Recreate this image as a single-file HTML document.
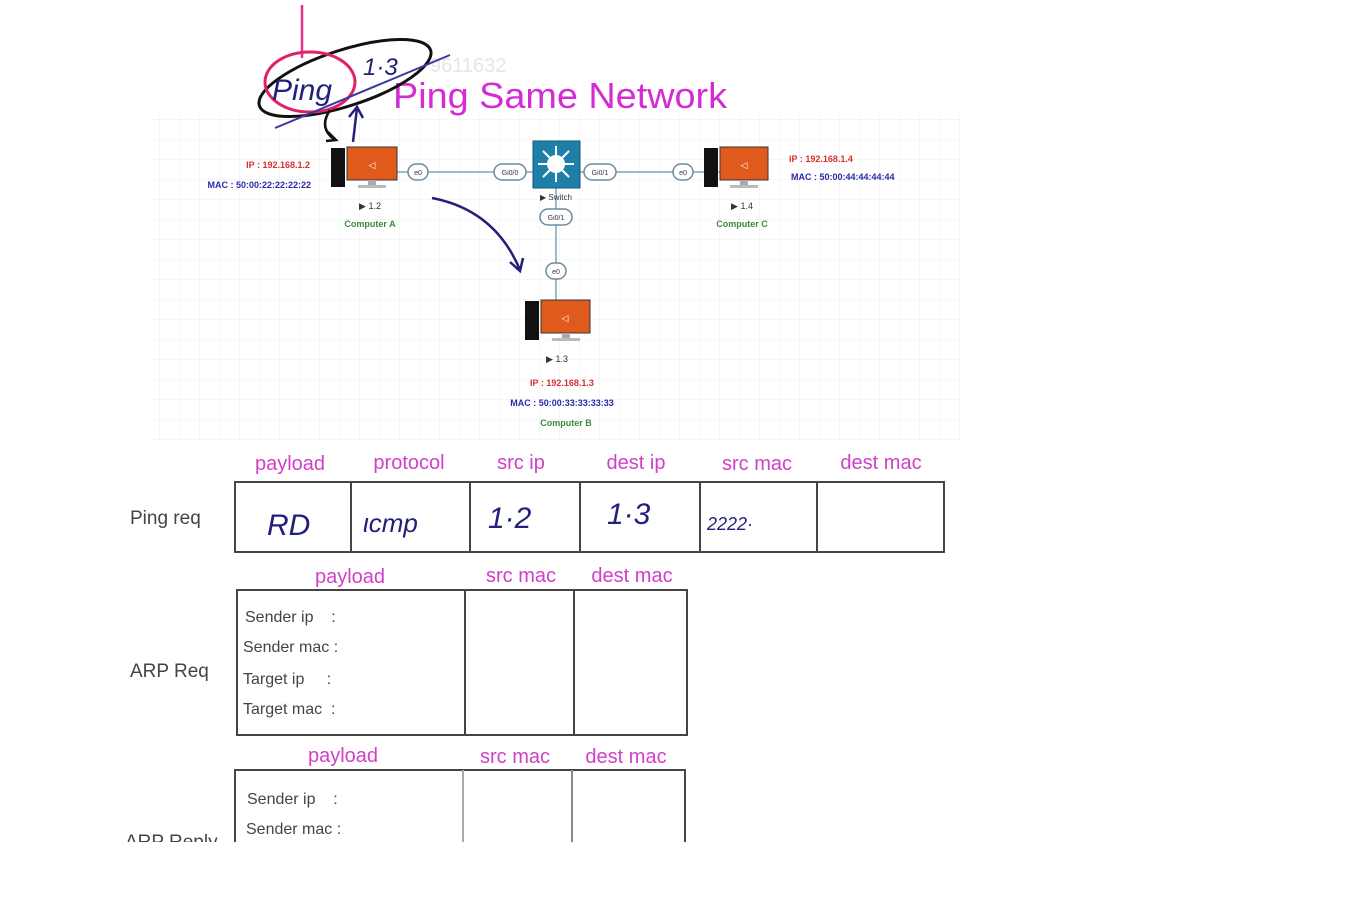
<!DOCTYPE html>
<html><head><meta charset="utf-8"><style>
html,body{margin:0;padding:0;background:#fff;}
svg{display:block;}
text{font-family:"Liberation Sans",sans-serif;}
</style></head><body>
<svg width="1355" height="900" viewBox="0 0 1355 900" xmlns="http://www.w3.org/2000/svg">
<defs>
<pattern id="g" width="20" height="20" patternUnits="userSpaceOnUse">
<path d="M20 0 V20 M0 20 H20" stroke="#ececec" stroke-width="1" fill="none"/>
</pattern>
<clipPath id="cut"><rect x="0" y="0" width="1355" height="842"/></clipPath>
</defs>
<rect width="1355" height="900" fill="#fff"/>
<rect x="150" y="115" width="810" height="325" fill="url(#g)"/>

<!-- title -->
<text x="430" y="72" font-size="20" fill="#e6e6e6">9611632</text>
<text x="393" y="108" font-size="36" fill="#d42bd4" textLength="334" lengthAdjust="spacingAndGlyphs">Ping Same Network</text>

<!-- handwriting -->
<line x1="302" y1="5" x2="302" y2="58" stroke="#e0308a" stroke-width="2.5"/>
<ellipse cx="345" cy="78" rx="90" ry="28" transform="rotate(-18 345 78)" fill="none" stroke="#111" stroke-width="3"/>
<ellipse cx="310" cy="82" rx="45" ry="30" fill="none" stroke="#e0206a" stroke-width="3"/>
<text x="272" y="100" font-size="30" fill="#22207a" font-family="Liberation Serif" font-style="italic">Ping</text>
<text x="363" y="75" font-size="24" fill="#22207a" font-family="Liberation Serif" font-style="italic">1·3</text>
<line x1="275" y1="128" x2="450" y2="55" stroke="#3a3aa0" stroke-width="2"/>
<path d="M330 110 Q318 128 335 140" stroke="#111" stroke-width="2.5" fill="none"/>
<path d="M328 132 L336 140 L326 141" stroke="#111" stroke-width="2.5" fill="none"/>
<line x1="353" y1="142" x2="357" y2="108" stroke="#22207a" stroke-width="2.5"/>
<path d="M349 117 L357 107 L363 118" stroke="#22207a" stroke-width="2.5" fill="none"/>
<path d="M432 198 Q495 210 520 270" stroke="#22207a" stroke-width="2.5" fill="none"/>
<path d="M510 262 L520 271 L523 258" stroke="#22207a" stroke-width="2.5" fill="none"/>

<!-- links -->
<line x1="397" y1="172" x2="720" y2="172" stroke="#9cbccc" stroke-width="2"/>
<line x1="556" y1="188" x2="556" y2="300" stroke="#9cbccc" stroke-width="2"/>
<g fill="#fff" stroke="#6a8aa0" stroke-width="1.5">
<rect x="408" y="164" width="20" height="16" rx="8"/>
<rect x="494" y="164" width="32" height="16" rx="8"/>
<rect x="584" y="164" width="32" height="16" rx="8"/>
<rect x="673" y="164" width="20" height="16" rx="8"/>
<rect x="540" y="209" width="32" height="16" rx="8"/>
<rect x="546" y="263" width="20" height="16" rx="8"/>
</g>
<g font-size="7" fill="#334" text-anchor="middle">
<text x="418" y="175">e0</text><text x="510" y="175">Gi0/0</text><text x="600" y="175">Gi0/1</text>
<text x="683" y="175">e0</text><text x="556" y="220">Gi0/1</text><text x="556" y="274">e0</text>
</g>

<!-- switch -->
<rect x="533" y="141" width="47" height="47" fill="#1e7fa8" stroke="#0e5a7a"/>
<circle cx="556" cy="164" r="9" fill="#fff"/>
<g stroke="#fff" stroke-width="2"><line x1="556" y1="146" x2="556" y2="182"/><line x1="538" y1="164" x2="574" y2="164"/><line x1="543" y1="151" x2="569" y2="177"/><line x1="569" y1="151" x2="543" y2="177"/></g>
<text x="556" y="200" font-size="8" fill="#333" text-anchor="middle">▶ Switch</text>

<!-- computers -->
<rect x="331" y="148" width="14" height="39" fill="#111"/>
<rect x="347" y="147" width="50" height="33" fill="#e05a1c" stroke="#333"/>
<rect x="368" y="180" width="8" height="5" fill="#aaa"/><rect x="358" y="185" width="28" height="3" fill="#bbb"/>
<text x="372" y="168" font-size="9" fill="#fff" text-anchor="middle">◁</text>
<rect x="704" y="148" width="14" height="39" fill="#111"/>
<rect x="720" y="147" width="48" height="33" fill="#e05a1c" stroke="#333"/>
<rect x="740" y="180" width="8" height="5" fill="#aaa"/><rect x="730" y="185" width="28" height="3" fill="#bbb"/>
<text x="744" y="168" font-size="9" fill="#fff" text-anchor="middle">◁</text>
<rect x="525" y="301" width="14" height="39" fill="#111"/>
<rect x="541" y="300" width="49" height="33" fill="#e05a1c" stroke="#333"/>
<rect x="562" y="333" width="8" height="5" fill="#aaa"/><rect x="552" y="338" width="28" height="3" fill="#bbb"/>
<text x="565" y="321" font-size="9" fill="#fff" text-anchor="middle">◁</text>

<g font-size="9" font-weight="bold">
<text x="310" y="168" fill="#d83030" text-anchor="end">IP : 192.168.1.2</text>
<text x="311" y="188" fill="#2a2aa8" text-anchor="end">MAC : 50:00:22:22:22:22</text>
<text x="370" y="209" fill="#333" text-anchor="middle" font-weight="normal">▶ 1.2</text>
<text x="370" y="227" fill="#3a8a3a" text-anchor="middle">Computer A</text>
<text x="789" y="162" fill="#d83030">IP : 192.168.1.4</text>
<text x="791" y="180" fill="#2a2aa8">MAC : 50:00:44:44:44:44</text>
<text x="742" y="209" fill="#333" text-anchor="middle" font-weight="normal">▶ 1.4</text>
<text x="742" y="227" fill="#3a8a3a" text-anchor="middle">Computer C</text>
<text x="557" y="362" fill="#333" text-anchor="middle" font-weight="normal">▶ 1.3</text>
<text x="562" y="386" fill="#d83030" text-anchor="middle">IP : 192.168.1.3</text>
<text x="562" y="406" fill="#2a2aa8" text-anchor="middle">MAC : 50:00:33:33:33:33</text>
<text x="566" y="426" fill="#3a8a3a" text-anchor="middle">Computer B</text>
</g>

<!-- tables -->
<g font-size="20" fill="#d040c8" text-anchor="middle">
<text x="290" y="470">payload</text><text x="409" y="469">protocol</text><text x="521" y="469">src ip</text>
<text x="636" y="469">dest ip</text><text x="757" y="470">src mac</text><text x="881" y="469">dest mac</text>
<text x="350" y="583">payload</text><text x="521" y="582">src mac</text><text x="632" y="582">dest mac</text>
<text x="343" y="762">payload</text><text x="515" y="763">src mac</text><text x="626" y="763">dest mac</text>
</g>
<g fill="none" stroke="#444" stroke-width="2">
<rect x="235" y="482" width="709" height="70"/>
<line x1="351" y1="482" x2="351" y2="552"/><line x1="470" y1="482" x2="470" y2="552"/>
<line x1="580" y1="482" x2="580" y2="552"/><line x1="700" y1="482" x2="700" y2="552"/>
<line x1="817" y1="482" x2="817" y2="552"/>
<rect x="237" y="590" width="450" height="145"/>
<line x1="465" y1="590" x2="465" y2="735"/><line x1="574" y1="590" x2="574" y2="735"/>
<g clip-path="url(#cut)">
<rect x="235" y="770" width="450" height="120"/>
<line x1="463" y1="770" x2="463" y2="890" stroke="#aaa"/><line x1="572" y1="770" x2="572" y2="890" stroke="#888"/>
</g>
</g>
<g font-size="19" fill="#444">
<text x="130" y="524">Ping req</text>
<text x="130" y="677">ARP Req</text>
</g>
<g font-size="16" fill="#444">
<text x="245" y="622">Sender ip&#160;&#160;&#160;&#160;:</text>
<text x="243" y="652">Sender mac :</text>
<text x="243" y="684">Target ip&#160;&#160;&#160;&#160;&#160;:</text>
<text x="243" y="714">Target mac&#160;&#160;:</text>
<text x="247" y="804">Sender ip&#160;&#160;&#160;&#160;:</text>
<text x="246" y="834">Sender mac :</text>
</g>
<g clip-path="url(#cut)"><text x="125" y="848" font-size="19" fill="#444">ARP Reply</text></g>

<g font-size="30" fill="#22207a" font-family="Liberation Serif" font-style="italic">
<text x="267" y="535">RD</text>
<text x="363" y="532" font-size="26">ιcmp</text>
<text x="488" y="528">1·2</text>
<text x="607" y="524">1·3</text>
<text x="707" y="530" font-size="18">2222·</text>
</g>
</svg>
</body></html>
